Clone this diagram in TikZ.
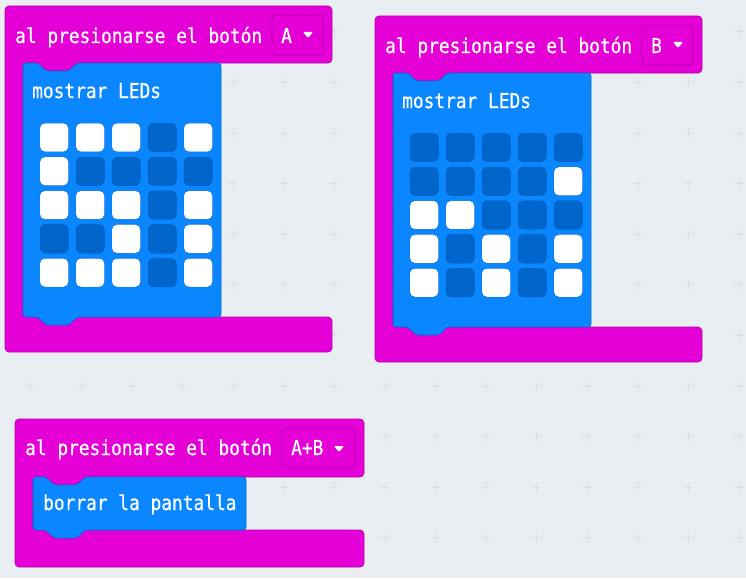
\documentclass[tikz,border=0pt]{standalone}
\usepackage{fontspec}
\newfontfamily\bloquefont[FakeStretch=0.87, FakeBold=0.6]{DejaVu Sans Mono}
\definecolor{fondocol}{HTML}{E9EEF2}
\definecolor{cruzcol}{HTML}{D9DFE3}
\definecolor{magentacol}{HTML}{E400D6}
\definecolor{magentaborde}{HTML}{B500AA}
\definecolor{azulcol}{HTML}{0A86FF}
\definecolor{azulborde}{HTML}{006AD4}
\definecolor{ledcol}{HTML}{0066CC}
\definecolor{ledborde}{HTML}{005CBC}
\tikzset{
    evento/.style={fill=magentacol, draw=magentaborde, line width=0.7pt, rounded corners=4pt},
    basico/.style={fill=azulcol, draw=azulborde, line width=0.7pt, rounded corners=3pt},
    menu/.style={fill=magentacol, draw=magentaborde, line width=0.8pt, rounded corners=4pt},
    etiqueta/.style={text=white, font=\bloquefont\fontsize{20.5}{22}\selectfont, anchor=base west, inner sep=0pt},
    apagado/.style={fill=ledcol, draw=ledborde, line width=0.5pt, rounded corners=5pt},
    encendido/.style={fill=white, rounded corners=5pt},
    cruz/.style={draw=cruzcol, line width=0.7pt}
}
\begin{document}
\begin{tikzpicture}[x=1pt, y=-1pt]
    \useasboundingbox [fill=fondocol] ( 0, 0 ) rectangle ( 746, 578 );

    % сетка
    \foreach \i in {0,...,14}
        \foreach \j in {0,...,10}
            \path [cruz] ( {30.7+50.6*\i}, {31.8+50.6*\j} ) ++( -5, 0 ) -- ++( 10, 0 ) ++( -5, -5 ) -- ++( 0, 10 );

    % блоки A и B
    \foreach \dx/\dy/\boton in {0/0/A, 370/10/B} {
        \begin{scope}[shift={( \dx, \dy )}]
            \path [evento] ( 5, 6 ) -- ( 332, 6 ) -- ( 332, 63 ) -- ( 77, 63 ) -- ( 69, 71 ) -- ( 46, 71 ) -- ( 38, 63 ) -- ( 23, 63 )
                -- ( 23, 317 ) -- ( 332, 317 ) -- ( 332, 352 ) -- ( 5, 352 ) -- cycle;
            \node [etiqueta] (titulo\boton) at ( 15, 43 ) {al presionarse el botón};
            \draw [menu] ( 272, 15 ) rectangle ( 323, 55 );
            \node [etiqueta] (opcion\boton) at ( 281, 43 ) {\boton};
            \fill [white, rounded corners=1pt] ( 303, 32 ) -- ( 313, 32 ) -- ( 308, 38 ) -- cycle;

            \path [basico] ( 23, 63 ) -- ( 38, 63 ) -- ( 46, 71 ) -- ( 69, 71 ) -- ( 77, 63 ) -- ( 221, 63 ) -- ( 221, 317 )
                -- ( 77, 317 ) -- ( 69, 325 ) -- ( 46, 325 ) -- ( 38, 317 ) -- ( 23, 317 ) -- cycle;
            \node [etiqueta] (leds\boton) at ( 32, 98 ) {mostrar LEDs};
            \foreach \c in {0,...,4}
                \foreach \r in {0,...,4}
                    \path [apagado] ( {40+36*\c}, {123.3+33.8*\r} ) rectangle ++( 28.3, 28.3 );
        \end{scope}
    }

    % светодиоды A
    \foreach \c/\r in {0/0, 1/0, 2/0, 4/0, 0/1, 0/2, 1/2, 2/2, 4/2, 2/3, 4/3, 0/4, 1/4, 2/4, 4/4}
        \path [encendido] ( {40+36*\c}, {123.3+33.8*\r} ) rectangle ++( 28.3, 28.3 );

    % светодиоды B
    \foreach \c/\r in {4/1, 0/2, 1/2, 0/3, 2/3, 4/3, 0/4, 2/4, 4/4}
        \path [encendido] ( {410+36*\c}, {133.3+33.8*\r} ) rectangle ++( 28.3, 28.3 );

    % блок A+B
    \path [evento] ( 15, 419 ) -- ( 364, 419 ) -- ( 364, 477 ) -- ( 85, 477 ) -- ( 77, 485 ) -- ( 54, 485 ) -- ( 46, 477 ) -- ( 33, 477 )
        -- ( 33, 530 ) -- ( 364, 530 ) -- ( 364, 567 ) -- ( 15, 567 ) -- cycle;
    \node [etiqueta] (tituloAB) at ( 25, 455 ) {al presionarse el botón};
    \draw [menu] ( 282, 428 ) rectangle ( 355, 468 );
    \node [etiqueta] (opcionAB) at ( 291, 455 ) {A+B};
    \fill [white, rounded corners=1pt] ( 334, 446 ) -- ( 344, 446 ) -- ( 339, 452 ) -- cycle;
    \path [basico] ( 33, 477 ) -- ( 46, 477 ) -- ( 54, 485 ) -- ( 77, 485 ) -- ( 85, 477 ) -- ( 246, 477 ) -- ( 246, 530 )
        -- ( 85, 530 ) -- ( 77, 538 ) -- ( 54, 538 ) -- ( 46, 530 ) -- ( 33, 530 ) -- cycle;
    \node [etiqueta] (borrar) at ( 43, 510 ) {borrar la pantalla};
\end{tikzpicture}
\end{document}
